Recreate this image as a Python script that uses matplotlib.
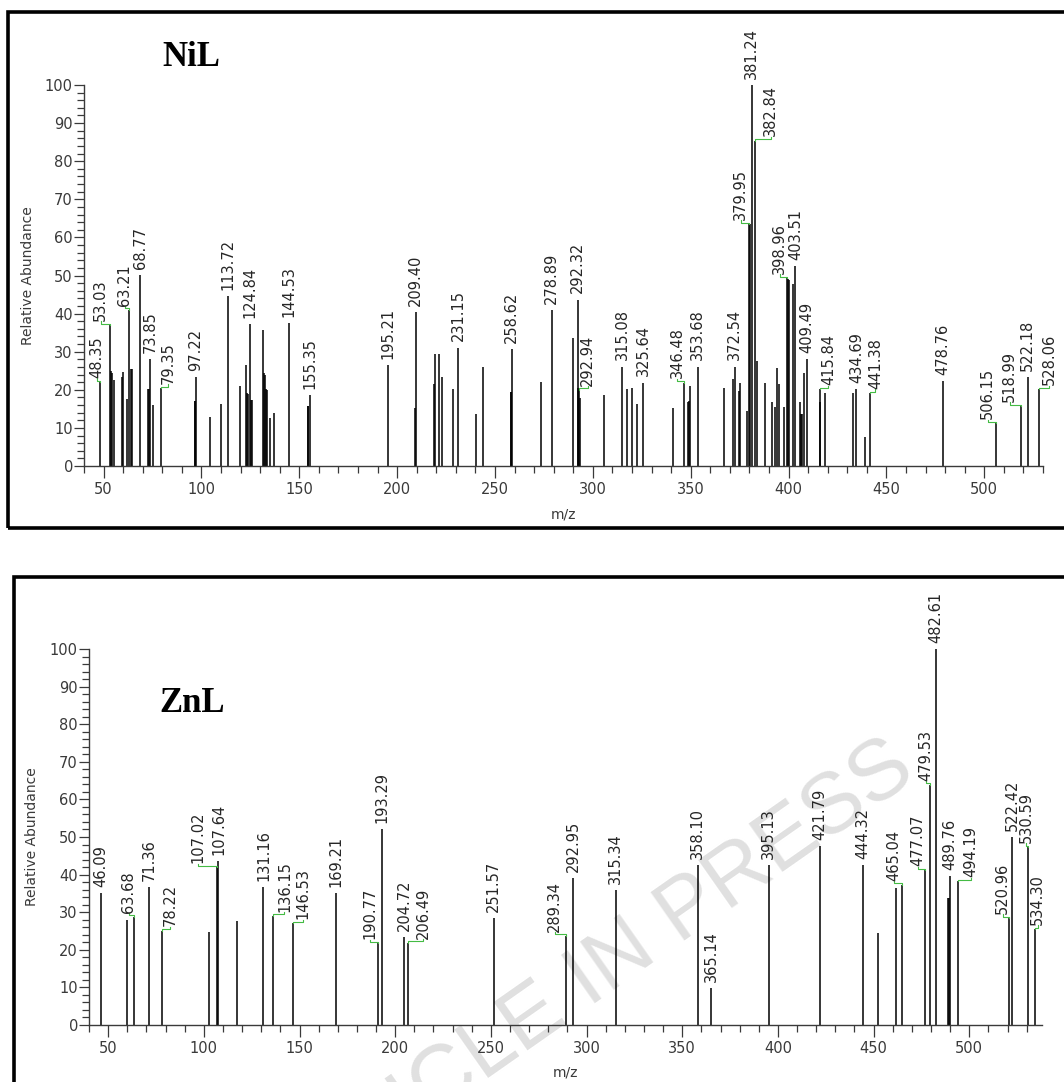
import matplotlib
matplotlib.use("Agg")
import matplotlib.pyplot as plt
from matplotlib.patches import Rectangle
from matplotlib.ticker import MultipleLocator

# NiL spectrum: peak m/z and relative abundance (%)
nil_mz = [
    48.35, 53.03, 53.8, 54.4, 55.5, 59.3, 60.0, 62.0, 63.21, 63.8, 64.5,
    68.77, 72.9, 73.4, 73.85, 75.4, 79.35, 96.5, 96.9, 97.22, 104.3, 109.8,
    113.72, 119.9, 122.6, 123.1, 123.6, 124.84, 125.3, 125.8, 131.4, 131.9,
    132.4, 133.0, 133.4, 135.1, 137.1, 144.53, 154.2, 154.7, 155.35,
    195.21, 208.9, 209.40, 218.6, 219.1, 221.2, 223.1, 228.6, 231.15, 240.4,
    244.1, 258.1, 258.4, 258.62, 273.5, 278.89, 290.0, 292.32, 292.6, 292.94,
    293.3, 305.8, 315.08, 317.6, 320.0, 322.5, 325.64, 341.0, 346.48, 348.7,
    349.0, 349.5, 353.68, 367.0, 371.8, 372.54, 374.5, 375.4, 378.8, 379.95,
    380.4, 381.24, 382.84, 383.8, 387.9, 391.3, 393.0, 394.2, 394.9, 397.8,
    398.96, 399.5, 400.0, 402.3, 403.51, 405.9, 406.6, 406.9, 407.8, 409.49,
    415.84, 416.3, 418.4, 432.8, 434.69, 439.1, 441.38, 478.76, 506.15,
    518.99, 522.18, 528.06,
]
nil_abundance = [
    22, 37, 25, 24.5, 22.5, 23.3, 24.8, 17.5, 41, 25.4, 25.4,
    50.1, 20.1, 20.1, 28, 16, 20.4, 17, 17, 23.4, 12.8, 16.4,
    44.7, 21, 26.5, 19.2, 19, 37.3, 17.3, 17.3, 35.7, 24.3,
    24, 20.1, 20, 12.7, 14, 37.6, 15.7, 15.7, 18.6,
    26.5, 15.1, 40.5, 21.5, 29.4, 29.4, 23.3, 20.1, 31.1, 13.6,
    26.1, 19.5, 19.5, 30.7, 22, 41, 33.5, 43.7, 20.4, 20.0,
    17.8, 18.6, 26.1, 20.1, 20.6, 16.4, 21.9, 15.1, 21.9, 16.9,
    17, 21, 26.1, 20.6, 22.8, 26.1, 19.7, 21.9, 14.5, 63.5,
    63.5, 100, 85.4, 27.6, 21.9, 16.9, 15.6, 25.6, 21.5, 15.4,
    49.3, 49, 48.7, 47.9, 52.5, 16.9, 13.6, 13.6, 24.3, 28,
    20.1, 16.9, 19.1, 19.1, 20.1, 7.5, 19.1, 22.4, 11.2,
    15.7, 23.3, 20.1,
]
nil_labels = [
    "48.35", "53.03", "63.21", "68.77", "73.85", "79.35", "97.22", "113.72",
    "124.84", "144.53", "155.35", "195.21", "209.40", "231.15", "258.62",
    "278.89", "292.32", "292.94", "315.08", "325.64", "346.48", "353.68",
    "372.54", "379.95", "381.24", "382.84", "398.96", "403.51", "409.49",
    "415.84", "434.69", "441.38", "478.76", "506.15", "518.99", "522.18",
    "528.06",
]

# ZnL spectrum
znl_mz = [
    46.09, 59.9, 63.68, 71.36, 78.22, 102.7, 107.02, 107.64, 117.2, 131.16,
    136.15, 146.53, 169.21, 190.77, 193.29, 204.72, 206.49, 251.57, 289.34,
    292.95, 315.34, 358.10, 365.14, 395.13, 421.79, 444.32, 452.5, 461.6,
    465.04, 477.07, 479.53, 482.61, 488.9, 489.2, 489.76, 494.19, 520.96,
    522.42, 530.59, 534.30,
]
znl_abundance = [
    35, 28, 28.8, 36.8, 25.1, 24.8, 41.9, 43.5, 27.7, 36.8,
    29, 27, 35, 21.7, 52.1, 23.3, 21.9, 28.4, 23.7,
    39, 35.9, 42.6, 9.8, 42.6, 47.6, 42.6, 24.4, 36.4,
    37.3, 41.1, 63.9, 100, 33.7, 33.7, 39.7, 38.2, 28.4,
    50.1, 47.3, 25.5,
]
znl_labels = [
    "46.09", "63.68", "71.36", "78.22", "107.02", "107.64", "131.16",
    "136.15", "146.53", "169.21", "190.77", "193.29", "204.72", "206.49",
    "251.57", "289.34", "292.95", "315.34", "358.10", "365.14", "395.13",
    "421.79", "444.32", "465.04", "477.07", "479.53", "482.61", "489.76",
    "494.19", "520.96", "522.42", "530.59", "534.30",
]

# label shifts (m/z units) for labels moved sideways with a green leader
nil_shift = {
    "48.35": -1.7, "53.03": -4.5, "63.21": -2.5, "79.35": 3.5,
    "292.94": 4.5, "346.48": -3.5, "379.95": -4.5, "382.84": 8,
    "398.96": -3.5, "415.84": 4.5, "441.38": 3, "506.15": -4.5,
    "518.99": -6, "528.06": 5,
}
znl_shift = {
    "63.68": -3, "78.22": 4, "107.02": -10, "136.15": 6, "146.53": 5.5,
    "190.77": -4, "206.49": 8, "289.34": -6, "465.04": -4.5,
    "477.07": -4, "479.53": -2, "494.19": 6.5, "520.96": -3.5,
    "530.59": -0.7, "534.30": 1.5,
}

TICK_COLOR = "#3a3a3a"
GREEN = "#44bb44"


def draw_spectrum(ax, mz, abundance, labels, shifts, xmax):
    ax.vlines(mz, 0, abundance, color="black", linewidth=1.1)
    ax.set_xlim(40, xmax)
    ax.set_ylim(0, 100)
    ax.set_facecolor("none")

    for lab in labels:
        x = float(lab)
        h = abundance[mz.index(x)]
        if lab in shifts:
            lx = x + shifts[lab]
            ax.plot([x, x, lx, lx], [h, h + 0.4, h + 0.4, h + 1.0],
                    color=GREEN, linewidth=0.8, clip_on=False)
            y = h + 1.1
        else:
            lx = x
            y = h + 1.6
        ax.text(lx, y, lab, rotation=90, ha="center", va="bottom",
                fontsize=10.5, color="#262626")

    for side in ("top", "right"):
        ax.spines[side].set_visible(False)
    for side in ("left", "bottom"):
        ax.spines[side].set_color(TICK_COLOR)
        ax.spines[side].set_linewidth(1.0)

    ax.xaxis.set_minor_locator(MultipleLocator(10))
    ax.yaxis.set_major_locator(MultipleLocator(10))
    ax.yaxis.set_minor_locator(MultipleLocator(2))
    ax.set_xticks([v for v in range(50, 501, 50)])
    ax.tick_params(axis="x", which="major", length=8.5, width=0.9,
                   color=TICK_COLOR, labelcolor=TICK_COLOR, labelsize=10.5, pad=3)
    ax.tick_params(axis="x", which="minor", length=5, width=0.9, color=TICK_COLOR)
    ax.tick_params(axis="y", which="major", length=7, width=0.9,
                   color=TICK_COLOR, labelcolor=TICK_COLOR, labelsize=10.5, pad=1)
    ax.tick_params(axis="y", which="minor", length=5, width=0.9, color=TICK_COLOR)

    ax.set_ylabel("Relative Abundance", fontsize=10, color=TICK_COLOR)
    ax.set_xlabel("m/z", fontsize=10, color=TICK_COLOR)


W, H = 1064, 1082
fig = plt.figure(figsize=(W / 100, H / 100), dpi=100)

# watermark behind everything (cut off by the page edge, as in the source)
fig.text(583 / W, 1 - 985 / H, "ARTICLE IN PRESS", rotation=35,
         rotation_mode="anchor", ha="center", va="center",
         fontsize=62, color="#e0e0e0", family="Liberation Sans", zorder=-5)

ax1 = fig.add_axes([84 / W, 1 - 466 / H, 959 / W, 381 / H])
draw_spectrum(ax1, nil_mz, nil_abundance, nil_labels, nil_shift, 530)
ax1.yaxis.set_label_coords(-0.051, 0.5)
ax1.xaxis.set_label_coords(0.5, -0.108)

ax2 = fig.add_axes([89 / W, 1 - 1025 / H, 953 / W, 376 / H])
draw_spectrum(ax2, znl_mz, znl_abundance, znl_labels, znl_shift, 538)
ax2.yaxis.set_label_coords(-0.052, 0.5)
ax2.xaxis.set_label_coords(0.5, -0.108)

# panel frames
fig.add_artist(Rectangle((8 / W, 1 - 528 / H), 1070 / W, 516 / H,
                         transform=fig.transFigure, fill=False,
                         edgecolor="black", linewidth=2.6))
fig.add_artist(Rectangle((14 / W, 1 - 1095 / H), 1070 / W, 518 / H,
                         transform=fig.transFigure, fill=False,
                         edgecolor="black", linewidth=2.6))

fig.text(191 / W, 1 - 58 / H, "NiL", ha="center", va="center",
         fontsize=25, fontweight="bold", family="Liberation Serif")
fig.text(192 / W, 1 - 703 / H, "ZnL", ha="center", va="center",
         fontsize=25, fontweight="bold", family="Liberation Serif")

fig.savefig("out.png", dpi=100, facecolor="white")
